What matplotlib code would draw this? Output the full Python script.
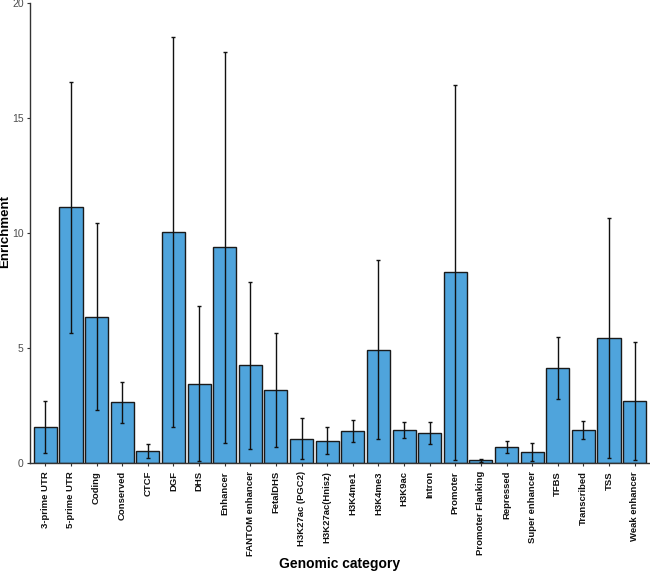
import matplotlib
matplotlib.use("Agg")
import matplotlib.pyplot as plt
import numpy as np

plt.rcParams['font.family'] = ['Liberation Sans', 'DejaVu Sans']

# enrichment per genomic category with lower/upper error limits
categories = ["3-prime UTR", "5-prime UTR", "Coding", "Conserved", "CTCF", "DGF", "DHS",
              "Enhancer", "FANTOM enhancer", "FetalDHS", "H3K27ac (PGC2)", "H3K27ac(Hnisz)",
              "H3K4me1", "H3K4me3", "H3K9ac", "Intron", "Promoter", "Promoter Flanking",
              "Repressed", "Super enhancer", "TFBS", "Transcribed", "TSS", "Weak enhancer"]
enrichment = [1.57, 11.1, 6.35, 2.63, 0.49, 10.03, 3.43, 9.36, 4.23, 3.15, 1.04, 0.96,
              1.39, 4.91, 1.42, 1.30, 8.28, 0.10, 0.70, 0.48, 4.10, 1.43, 5.41, 2.67]
err_low = [0.42, 5.65, 2.28, 1.74, 0.19, 1.55, 0.07, 0.87, 0.61, 0.67, 0.16, 0.39,
           0.90, 1.02, 1.09, 0.83, 0.12, 0.05, 0.42, 0.09, 2.76, 1.04, 0.19, 0.10]
err_high = [2.68, 16.57, 10.43, 3.52, 0.81, 18.51, 6.81, 17.86, 7.87, 5.63, 1.93, 1.57,
            1.87, 8.81, 1.76, 1.78, 16.43, 0.17, 0.96, 0.87, 5.45, 1.81, 10.64, 5.26]

x = np.arange(len(categories))
vals = np.array(enrichment)
yerr = [vals - np.array(err_low), np.array(err_high) - vals]

fig = plt.figure(figsize=(6.5, 5.72), dpi=100)
ax = fig.add_axes([30/650, 1 - 462.7/572, 620/650, 460/572])

ax.bar(x, vals, width=0.9, color="#4fa4dc", edgecolor="#1a1a1a", linewidth=1.0, zorder=2)
ax.errorbar(x, vals, yerr=yerr, fmt="none", ecolor="#111111", elinewidth=1.0,
            capsize=1.2, capthick=1.0, zorder=3)

ax.set_xlim(-0.6, len(categories) - 0.4)
ax.set_ylim(0, 20)
ax.set_yticks([0, 5, 10, 15, 20])
ax.set_xticks(x)
ax.set_xticklabels(categories, rotation=90, fontsize=6.8, fontweight="semibold", color="#111111")
ax.tick_params(axis="y", labelsize=7.5, labelcolor="#4d4d4d", length=2.5, width=0.8,
               color="#333333", pad=2)
ax.tick_params(axis="x", length=2.5, width=0.8, color="#333333")

for s in ["top", "right"]:
    ax.spines[s].set_visible(False)
for s in ["left", "bottom"]:
    ax.spines[s].set_linewidth(1.0)
    ax.spines[s].set_color("#333333")

ax.set_ylabel("Enrichment", fontsize=9.5, fontweight="bold", va="center")
ax.yaxis.set_label_coords(-0.040, 0.503)
ax.set_xlabel("Genomic category", fontsize=10, fontweight="bold", va="center")
ax.xaxis.set_label_coords(0.5, -0.22)

fig.savefig("out.png", dpi=100)
